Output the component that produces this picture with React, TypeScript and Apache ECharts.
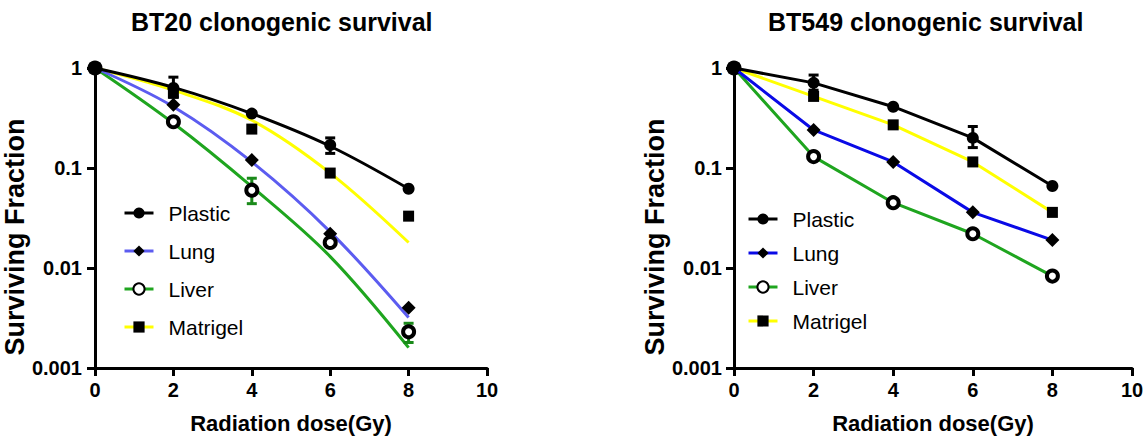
import React, { useEffect, useRef } from "react";
import * as echarts from "echarts";

// ---- data ----
const SERIES_NAMES = ["Plastic", "Lung", "Liver", "Matrigel"];
const doses = [0, 2, 4, 6, 8];
const xTicks = [0, 2, 4, 6, 8, 10];
const yTickLabels = ["0.001", "0.01", "0.1", "1"];

// BT20 measured points
const bt20Plastic = [1, 0.63, 0.35, 0.17, 0.062];
const bt20Lung = [1, 0.43, 0.12, 0.022, 0.004];
const bt20Liver = [1, 0.29, 0.06, 0.018, 0.0023];
const bt20Matrigel = [1, 0.56, 0.245, 0.089, 0.033];
// BT20 fitted curves
const bt20PlasticFit = [1, 0.64, 0.35, 0.165, 0.062];
const bt20LungFit = [1, 0.41, 0.115, 0.023, 0.0032];
const bt20LiverFit = [1, 0.28, 0.065, 0.013, 0.0016];
const bt20MatrigelFit = [1, 0.6, 0.3, 0.089, 0.018];
// BT20 error bars: [dose, low, high, seriesIndex]
const bt20Errors = [
  [2, 0.51, 0.81, 0],
  [6, 0.14, 0.2, 0],
  [4, 0.044, 0.079, 2],
  [8, 0.0018, 0.0028, 2],
];

// BT549 measured points
const bt549Plastic = [1, 0.71, 0.41, 0.2, 0.066];
const bt549Lung = [1, 0.24, 0.115, 0.036, 0.019];
const bt549Liver = [1, 0.13, 0.045, 0.022, 0.0083];
const bt549Matrigel = [1, 0.52, 0.27, 0.115, 0.036];
const bt549Errors = [
  [2, 0.6, 0.85, 0],
  [6, 0.16, 0.26, 0],
];

const FONT = "'Liberation Sans', Arial, sans-serif";
const leftColors = ["#000000", "#5c5cf0", "#1fa51f", "#ffff00"];
const rightColors = ["#000000", "#0a0ae6", "#1fa51f", "#ffff00"];
const errColors = ["#000000", "#000000", "#1a8a1a", "#000000"];
const symbols = ["circle", "diamond", "circle", "rect"];
const symbolSizes = [12, 14, 11, 11];

const pair = (ys: number[]) => doses.map((d, i) => [d, ys[i]]);

const markerStyle = (i: number) =>
  i === 2
    ? { color: "#fff", borderWidth: 4, borderColor: "#000" }
    : { color: "#000", borderWidth: 0, borderColor: "#000" };

function makeAxes(gridIndex: number, nameGap: number, labelMargin: number) {
  const axisLine = { show: true, lineStyle: { color: "#000", width: 3 } };
  const axisTick = { show: true, length: 8, lineStyle: { color: "#000", width: 3 } };
  return {
    x: {
      type: "value",
      gridIndex,
      min: 0,
      max: 10,
      interval: 2,
      name: "Radiation dose(Gy)",
      nameLocation: "middle",
      nameGap: 44,
      nameTextStyle: { fontFamily: FONT, fontWeight: "bold", fontSize: 22, color: "#000" },
      axisLine,
      axisTick,
      splitLine: { show: false },
      axisLabel: {
        margin: 12,
        fontFamily: FONT,
        fontWeight: "bold",
        fontSize: 20,
        color: "#000",
        formatter: (v: number) => (xTicks.includes(v) ? String(v) : ""),
      },
    },
    y: {
      type: "log",
      logBase: 10,
      gridIndex,
      min: 0.001,
      max: 1,
      name: "Surviving Fraction",
      nameLocation: "middle",
      nameGap,
      nameTextStyle: {
        fontFamily: FONT,
        fontWeight: "bold",
        fontSize: 27,
        color: "#000",
        padding: [0, 38, 0, 0],
      },
      axisLine,
      axisTick,
      splitLine: { show: false },
      minorTick: { show: false },
      axisLabel: {
        margin: labelMargin,
        fontFamily: FONT,
        fontWeight: "bold",
        fontSize: 20,
        color: "#000",
        formatter: (v: number) => {
          const k = Math.round(Math.log10(v)) + 3;
          return yTickLabels[k] ?? "";
        },
      },
    },
  };
}

function errorSeries(idx: number, data: number[][]) {
  return {
    type: "custom",
    xAxisIndex: idx,
    yAxisIndex: idx,
    z: 5,
    silent: true,
    data,
    renderItem: (params: any, api: any) => {
      const x = api.value(0);
      const lo = api.value(1);
      const hi = api.value(2);
      const c = errColors[api.value(3)];
      const p1 = api.coord([x, lo]);
      const p2 = api.coord([x, hi]);
      const w = 5;
      const style = { stroke: c, lineWidth: 3 };
      return {
        type: "group",
        children: [
          { type: "line", shape: { x1: p1[0], y1: p1[1], x2: p2[0], y2: p2[1] }, style },
          { type: "line", shape: { x1: p1[0] - w, y1: p1[1], x2: p1[0] + w, y2: p1[1] }, style },
          { type: "line", shape: { x1: p2[0] - w, y1: p2[1], x2: p2[0] + w, y2: p2[1] }, style },
        ],
      };
    },
  };
}

export default function App() {
  const ref = useRef<HTMLDivElement>(null);
  useEffect(() => {
    if (!ref.current) return;
    const chart = echarts.init(ref.current, null, { renderer: "svg" });
    const a0 = makeAxes(0, 60, 13);
    const a1 = makeAxes(1, 63, 12);

    const bt20Points = [bt20Plastic, bt20Lung, bt20Liver, bt20Matrigel];
    const bt20Fits = [bt20PlasticFit, bt20LungFit, bt20LiverFit, bt20MatrigelFit];
    const bt549Points = [bt549Plastic, bt549Lung, bt549Liver, bt549Matrigel];

    const series: any[] = [];
    // left fitted curves
    bt20Fits.forEach((f, i) => {
      series.push({
        type: "line",
        name: SERIES_NAMES[i] + " fit",
        xAxisIndex: 0,
        yAxisIndex: 0,
        data: pair(f),
        smooth: 0.35,
        symbol: "none",
        z: 2 + (3 - i) * 0.01,
        lineStyle: { color: leftColors[i], width: 3 },
      });
    });
    // left markers
    bt20Points.forEach((p, i) => {
      series.push({
        type: "line",
        name: SERIES_NAMES[i],
        xAxisIndex: 0,
        yAxisIndex: 0,
        data: pair(p),
        symbol: symbols[i],
        symbolSize: symbolSizes[i],
        z: 10,
        itemStyle: markerStyle(i),
        lineStyle: { color: leftColors[i], width: 3, opacity: 0 },
      });
    });
    series.push(errorSeries(0, bt20Errors));
    // right lines + markers
    bt549Points.forEach((p, i) => {
      series.push({
        type: "line",
        name: SERIES_NAMES[i] + " ",
        xAxisIndex: 1,
        yAxisIndex: 1,
        data: pair(p),
        symbol: symbols[i],
        symbolSize: symbolSizes[i],
        z: 3 + (3 - i) * 0.01,
        itemStyle: markerStyle(i),
        lineStyle: { color: rightColors[i], width: 3 },
      });
    });
    series.push(errorSeries(1, bt549Errors));

    const legendBase = {
      orient: "vertical",
      padding: 0,
      itemWidth: 29,
      itemHeight: 14,
      selectedMode: false,
      textStyle: {
        fontFamily: FONT,
        fontSize: 21,
        lineHeight: 24,
        color: "#000",
        padding: [0, 0, 0, 10],
      },
    };

    chart.setOption({
      animation: false,
      backgroundColor: "#fff",
      title: [
        {
          text: "BT20 clonogenic survival",
          left: 131,
          top: 9,
          padding: 0,
          textStyle: { fontFamily: FONT, fontWeight: "bold", fontSize: 25, color: "#000" },
        },
        {
          text: "BT549 clonogenic survival",
          left: 768,
          top: 9,
          padding: 0,
          textStyle: { fontFamily: FONT, fontWeight: "bold", fontSize: 25, color: "#000" },
        },
      ],
      legend: [
        {
          ...legendBase,
          left: 123,
          top: 201,
          itemGap: 14,
          data: SERIES_NAMES.map((n, i) => ({
            name: n,
            lineStyle: { color: leftColors[i], width: 3, opacity: 1 },
          })),
        },
        {
          ...legendBase,
          left: 747,
          top: 207,
          itemGap: 10,
          data: SERIES_NAMES.map((n, i) => ({
            name: n + " ",
            lineStyle: { color: rightColors[i], width: 3, opacity: 1 },
          })),
          formatter: (n: string) => n.trim(),
        },
      ],
      grid: [
        { left: 95, top: 68, width: 392, height: 300 },
        { left: 734, top: 68, width: 398, height: 300 },
      ],
      xAxis: [a0.x, a1.x],
      yAxis: [a0.y, a1.y],
      series,
    });
    return () => chart.dispose();
  }, []);
  return <div ref={ref} style={{ width: 1148, height: 440, position: "absolute", left: 0, top: 0 }} />;
}
